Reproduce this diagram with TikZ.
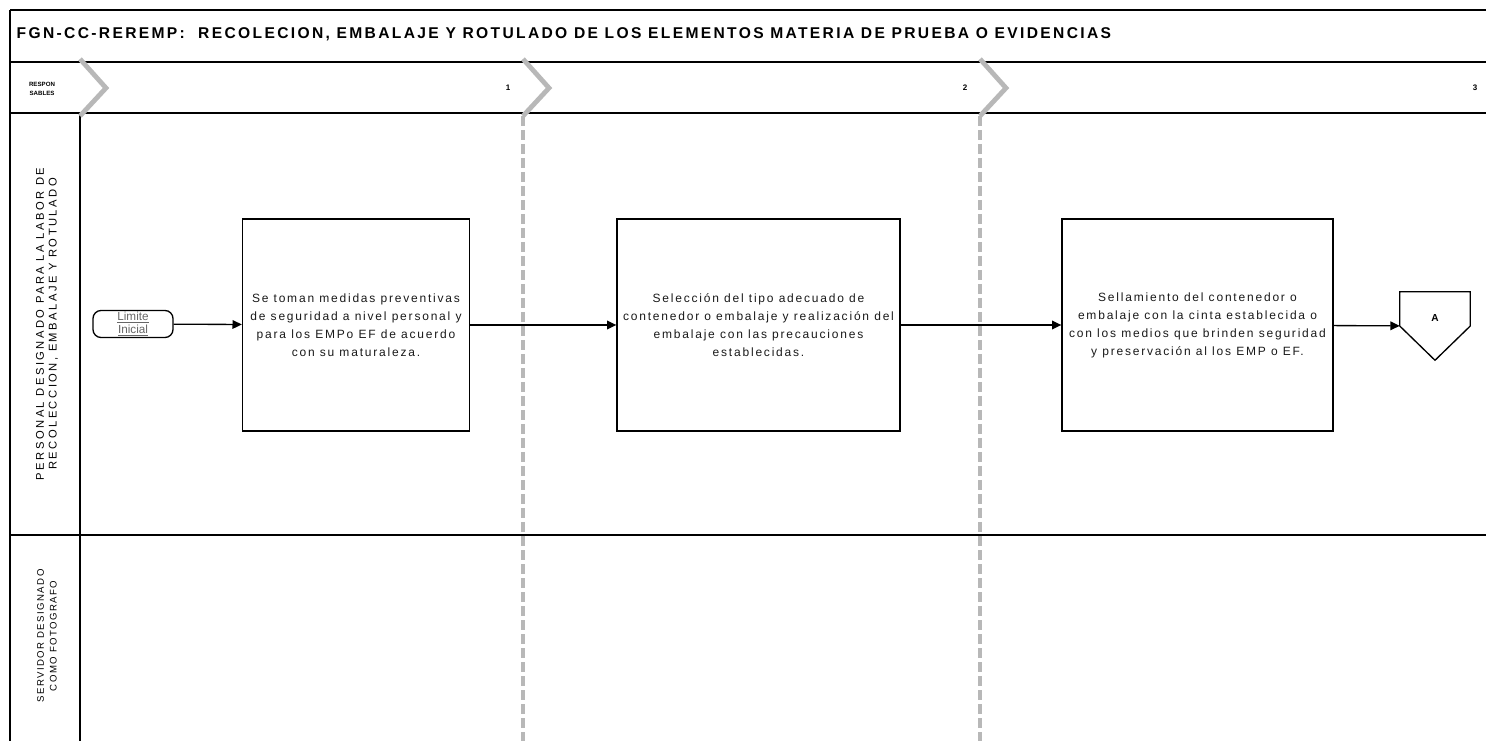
\documentclass[tikz,border=0pt]{standalone}
\usepackage{fontspec}
\setmainfont{Liberation Sans}
\usepackage{tikz}
\usetikzlibrary{calc, arrows.meta}
\newcommand\espaciado{\addfontfeatures{LetterSpace=15}}
\newcommand\espaciadoancho{\addfontfeatures{LetterSpace=22}}

\tikzset{
  marco/.style={line width=1.2pt, draw=black},
  carril/.style={line width=3pt, draw=black!28, dash pattern=on 7.5pt off 3pt},
  chevron/.style={line width=3.6pt, draw=black!28},
  caja/.style={draw, line width=1pt, align=center, inner sep=0pt,
    minimum width=#1*0.75pt, minimum height=212*0.75pt,
    font=\fontsize{9}{13.5}\selectfont\espaciado, text=black!90},
  inicio/.style={draw, line width=1pt, rounded corners=6pt, align=center, inner sep=0pt,
    minimum width=80*0.75pt, minimum height=27*0.75pt,
    font=\fontsize{8.8}{10}\selectfont, text=black!60},
  numero/.style={font=\fontsize{6}{7}\selectfont\bfseries},
  rotulo/.style={rotate=90, align=center, font=#1},
  flujo/.style={line width=1pt, -{Triangle[length=7pt,width=6.5pt]}},
}

\begin{document}
\begin{tikzpicture}[x=0.75pt, y=-0.75pt]
  \useasboundingbox (0,0) rectangle (1486,741);
  % marco de la tabla
  \foreach \y in {10,62,113,535}
    \draw[marco] (10,\y) -- (1486,\y);
  \draw[marco] (10,10) -- (10,741);
  \draw[marco] (80,113) -- (80,741);
  % chevrones de las fases y lineas punteadas
  \foreach \x in {80,523,980}
    \draw[chevron] (\x,59) -- (\x+26,88) -- (\x,116);
  \foreach \x in {523,980}
    \draw[carril] (\x,116) -- (\x,741);

  \node[anchor=west, font=\fontsize{11.7}{13}\selectfont\bfseries\espaciado] (titulo) at (12,34)
    {FGN-CC-REREMP:\ \ RECOLECION, EMBALAJE Y ROTULADO DE LOS ELEMENTOS MATERIA DE PRUEBA O EVIDENCIAS};
  \node[align=center, font=\fontsize{4.6}{6.5}\selectfont\bfseries] (responsables) at (42,89) {RESPON\\SABLES};
  \foreach \x/\n in {508/1,965/2,1475/3}
    \node[numero] (num\n) at (\x,88) {\n};

  % responsables
  \node[rotulo=\fontsize{8.4}{9.5}\selectfont\espaciadoancho] (carril1) at (47,324) {PERSONAL DESIGNADO PARA LA LABOR DE\\RECOLECCION, EMBALAJE Y ROTULADO};
  \node[rotulo=\fontsize{7.2}{9.5}\selectfont\espaciado] (carril2) at (47,636) {SERVIDOR DESIGNADO\\COMO FOTOGRAFO};

  % actividades
  \node[inicio] (inicio) at (133,324) {\underline{Limite}\\\underline{Inicial}};
  \node[caja=227] (paso1) at (356,325) {Se toman medidas preventivas\\de seguridad a nivel personal y\\para los EMPo EF de acuerdo\\con su maturaleza.};
  \node[caja=283] (paso2) at (758.5,325) {Selección del tipo adecuado de\\contenedor o embalaje y realización del\\embalaje con las precauciones\\establecidas.};
  \node[caja=271] (paso3) at (1197.5,325) {Sellamiento del contenedor o\\embalaje con la cinta establecida o\\con los medios que brinden seguridad\\y preservación al los EMP o EF.};

  % conector fuera de pagina
  \node[minimum width=70*0.75pt, minimum height=68*0.75pt, inner sep=0pt] (conA) at (1435,326) {};
  \draw[line width=1pt] (conA.north west) -- (conA.north east) -- (conA.east) -- (conA.south) -- (conA.west) -- cycle;
  \node[font=\fontsize{7.6}{9}\selectfont\bfseries] (letraA) at (1435,318) {A};

  \draw[flujo] (inicio) -- (paso1);
  \draw[flujo] (paso1) -- (paso2);
  \draw[flujo] (paso2) -- (paso3);
  \draw[flujo] (paso3) -- (conA);
\end{tikzpicture}
\end{document}
